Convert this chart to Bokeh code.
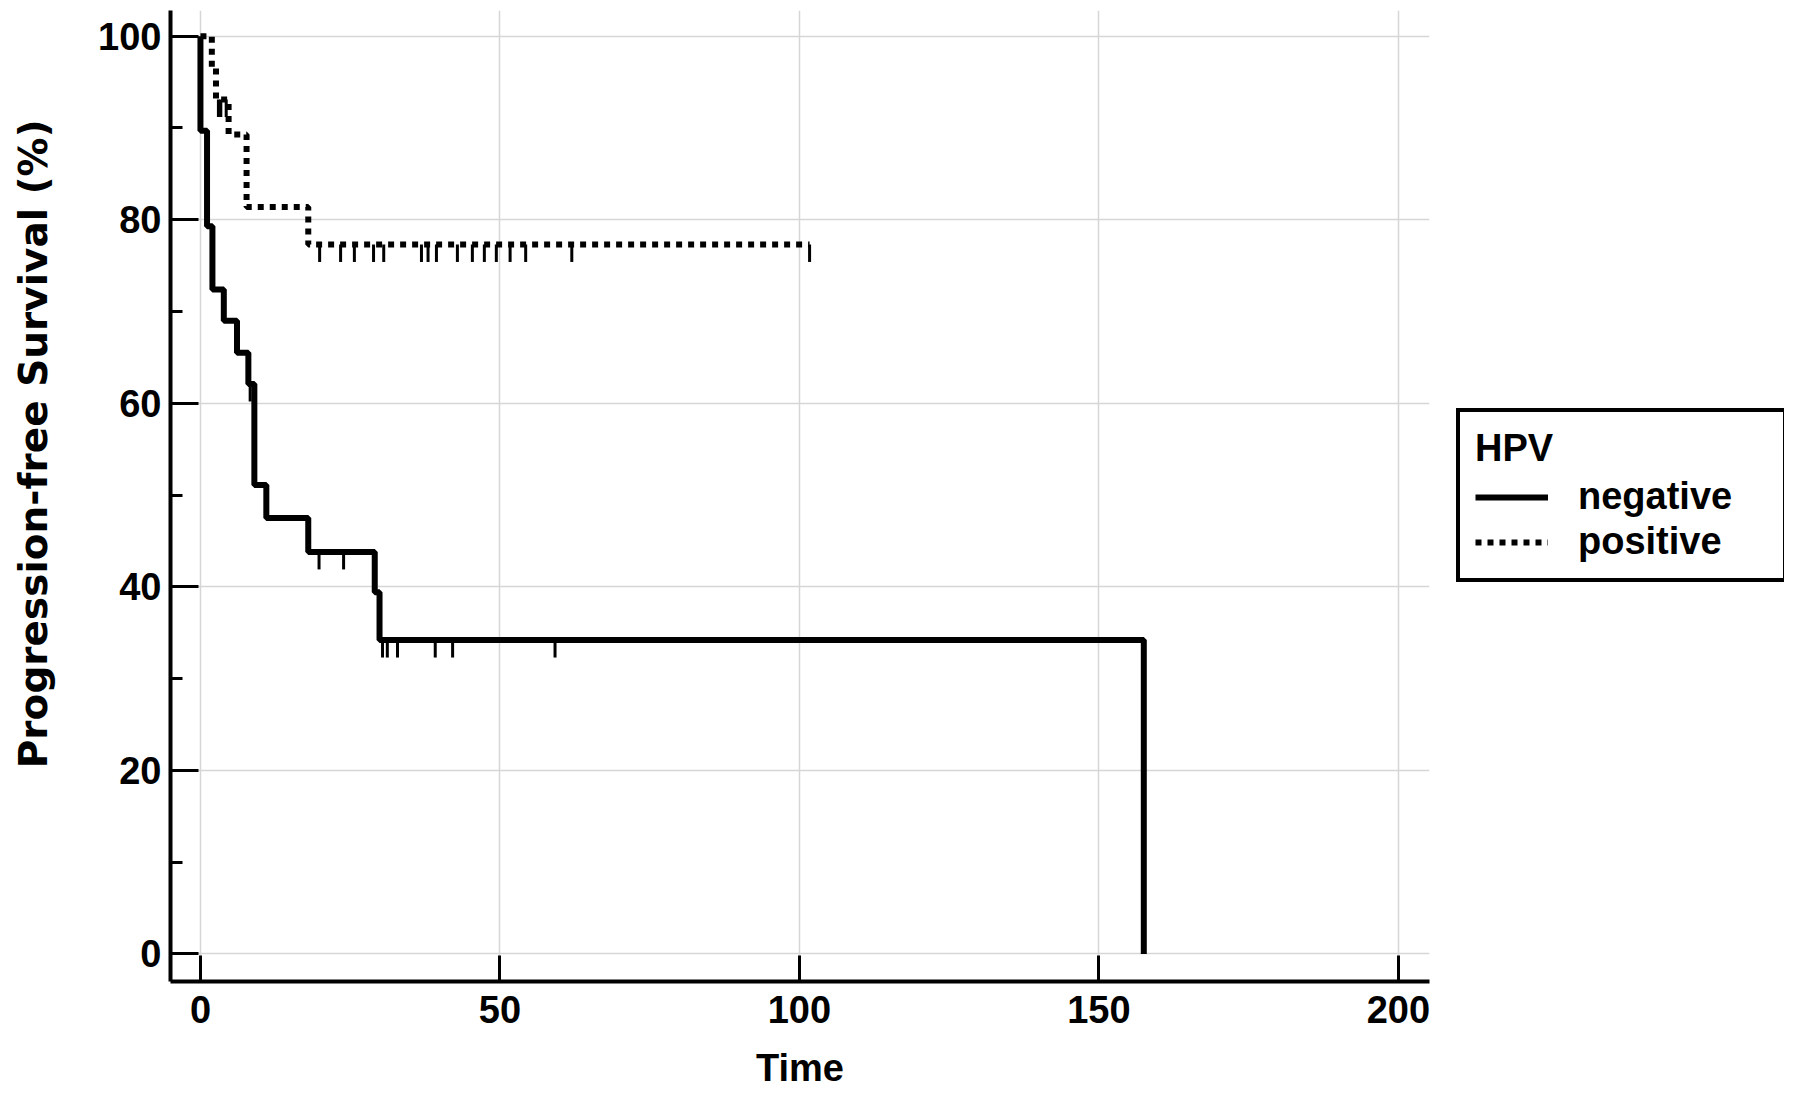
import numpy as np
from bokeh.plotting import figure
from bokeh.layouts import row
from bokeh.models import (Legend, LegendItem, SingleIntervalTicker, FixedTicker, Range1d,
                          Title, LinearAxis)
from bokeh.embed import file_html
from bokeh.resources import INLINE

# ---- data ----
neg_time = [0, 0, 1.1, 2.0, 3.9, 6.1, 8.0, 9.0, 11.0, 18.0, 29.1, 29.9, 157.5]
neg_surv = [100, 89.7, 79.3, 72.4, 69.0, 65.5, 62.1, 51.1, 47.5, 43.8, 39.4, 34.2, 0]
neg_censor = [8.3, 19.8, 23.9, 30.4, 31.2, 32.9, 39.2, 42.1, 59.2]

pos_time = [0, 1.9, 2.6, 4.7, 7.7, 18.0, 101.7]
pos_surv = [100, 96.6, 93.1, 89.3, 81.4, 77.3, 77.3]
pos_censor = [3.0, 3.4, 4.3, 19.9, 23.4, 25.7, 28.9, 30.6, 36.9, 38.0, 39.4,
              42.9, 45.4, 47.4, 49.4, 51.7, 54.3, 62.0, 101.7]

x_ticks = [0, 50, 100, 150, 200]
group_labels = ["negative", "positive"]
legend_title = "HPV"
x_label = "Time"
y_label = "Progression-free Survival (%)"


def level_at(times, surv, t):
    idx = np.searchsorted(np.asarray(times), t, side="right") - 1
    return np.asarray(surv)[idx]


FONT = "Liberation Sans"
H = 1092
W_MAIN = 1433

p = figure(width=W_MAIN, height=H,
           x_range=Range1d(-5, 205.2), y_range=Range1d(-3, 102.8),
           output_backend="svg", toolbar_location=None,
           min_border_left=170, min_border_right=4,
           min_border_top=10, min_border_bottom=111)
p.outline_line_color = None
p.background_fill_color = "white"

# curves
neg_r = p.step(neg_time, neg_surv, mode="after", line_color="black", line_width=6)
pos_r = p.step(pos_time, pos_surv, mode="after", line_color="black", line_width=6,
               line_dash="6 6")

# censor marks hanging below the curve
tick_len = 1.9
nl = level_at(neg_time, neg_surv, neg_censor)
p.segment(x0=neg_censor, y0=nl, x1=neg_censor, y1=nl - tick_len,
          line_color="black", line_width=3)
pl = level_at(pos_time, pos_surv, pos_censor)
p.segment(x0=pos_censor, y0=pl, x1=pos_censor, y1=pl - tick_len,
          line_color="black", line_width=3)

# axes
for ax in (p.xaxis[0], p.yaxis[0]):
    ax.axis_line_width = 4
    ax.axis_line_color = "black"
    ax.major_tick_line_width = 3
    ax.major_tick_line_color = "black"
    ax.major_tick_out = 0
    ax.major_label_text_font = FONT
    ax.major_label_text_font_style = "bold"
    ax.major_label_text_font_size = "38px"
    ax.major_label_text_color = "black"
    ax.axis_label_text_font = FONT
    ax.axis_label_text_font_style = "bold"
    ax.axis_label_text_font_size = "38px"
    ax.axis_label_text_color = "black"

p.yaxis.ticker = SingleIntervalTicker(interval=20, num_minor_ticks=2)
p.yaxis.major_tick_in = 28
p.yaxis.minor_tick_in = 12
p.yaxis.minor_tick_out = 0
p.yaxis.minor_tick_line_width = 3
p.yaxis.minor_tick_line_color = "black"
p.yaxis.major_label_standoff = 9

p.xaxis.ticker = FixedTicker(ticks=x_ticks)
p.xaxis.major_tick_in = 26
p.xaxis.minor_tick_line_color = None
p.xaxis.major_label_standoff = 14
p.xaxis.axis_label = x_label
p.xaxis.axis_label_standoff = 21

p.xgrid.ticker = FixedTicker(ticks=x_ticks)
for g in (p.xgrid[0], p.ygrid[0]):
    g.grid_line_color = "#d6d6d6"
    g.grid_line_width = 1.5

# invisible spacer axis between the y axis and its title
# (one white tick on white background, label not drawn)
spacer = LinearAxis(ticker=FixedTicker(ticks=[50]), major_tick_out=38, major_tick_in=0,
                    major_tick_line_color="white", minor_tick_out=0, minor_tick_in=0,
                    minor_tick_line_color=None, axis_line_color=None,
                    major_label_standoff=0, major_label_text_color=None,
                    major_label_text_font_size="2px")
p.add_layout(spacer, "left")

ytitle = Title(text=y_label, align="right", vertical_align="top", offset=109, standoff=0,
               text_font="DejaVu Sans", text_font_style="bold", text_font_size="39px",
               text_color="black")
p.add_layout(ytitle, "left")

# ---- legend panel ----
q = figure(width=1784 - W_MAIN, height=H, x_range=Range1d(0, 1), y_range=Range1d(0, 1),
           output_backend="svg", toolbar_location=None,
           x_axis_location=None, y_axis_location=None,
           min_border_left=0, min_border_right=0, min_border_top=0, min_border_bottom=0)
q.outline_line_color = None
q.xgrid.visible = False
q.ygrid.visible = False
# legend-only renderers (no visible data)
ln = q.line(x=[np.nan], y=[np.nan], line_color="black", line_width=6)
lp = q.line(x=[np.nan], y=[np.nan], line_color="black", line_width=6, line_dash="6 6")

legend = Legend(
    items=[LegendItem(label=group_labels[0], renderers=[ln]),
           LegendItem(label=group_labels[1], renderers=[lp])],
    location=(23, 399),
    title=legend_title,
    title_text_font=FONT, title_text_font_style="bold", title_text_font_size="38px",
    title_text_color="black",
    title_standoff=5,
    label_text_font=FONT, label_text_font_style="bold", label_text_font_size="38px",
    label_text_color="black",
    border_line_color="black", border_line_width=4, border_line_alpha=1.0,
    background_fill_color="white", background_fill_alpha=1.0,
    padding=15, spacing=2, margin=0,
    glyph_width=73, glyph_height=40, label_height=40, label_width=190,
    label_standoff=30,
)
q.add_layout(legend)

layout = row(p, q)
open("out.html", "w").write(file_html(layout, INLINE))
